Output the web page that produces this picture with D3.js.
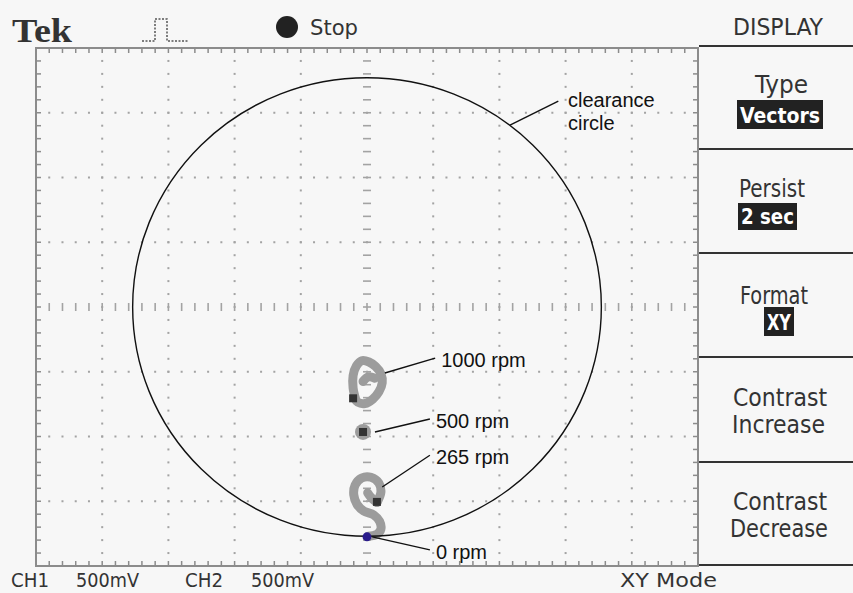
<!DOCTYPE html>
<html>
<head>
<meta charset="utf-8">
<script src="https://cdn.jsdelivr.net/npm/d3@7"></script>
<style>
  html, body { margin: 0; padding: 0; background: #f7f7f7; }
  svg { display: block; }
</style>
</head>
<body>
<div class="scope"></div>
<script>
// XY mode trace, graticule units (divisions); 500mV/div on both channels
var ch1Label = "CH1", ch1Scale = "500mV";
var ch2Label = "CH2", ch2Scale = "500mV";

var rpmLabels = ["1000 rpm", "500 rpm", "265 rpm", "0 rpm"];

var trace1000 = [[-0.17,-1.43],[-0.21,-1.25],[-0.21,-1.06],[-0.16,-0.91],[-0.08,-0.83],[0.03,-0.85],
                 [0.13,-0.92],[0.21,-1.03],[0.23,-1.17],[0.18,-1.31],[0.09,-1.42],[-0.03,-1.49],
                 [-0.14,-1.47],[-0.19,-1.41]];
var spur1000 = [[0.12,-1.10],[0.02,-1.08],[-0.06,-1.15]];
var trace500 = [[-0.06,-1.93]];
var trace265 = [[0.15,-3.02],[0.21,-2.86],[0.18,-2.72],[0.06,-2.63],[-0.08,-2.64],[-0.18,-2.75],
                [-0.20,-2.90],[-0.15,-3.05],[-0.05,-3.15],[0.10,-3.21],[0.19,-3.31],[0.21,-3.43],
                [0.15,-3.51],[0.02,-3.54]];
var spur265 = [[0.15,-3.02],[0.06,-2.94],[0.01,-2.87]];
var darkSpots = [[-0.21,-1.41],[-0.06,-1.93],[0.15,-3.01]];
var zeroRpm = [0, -3.55];
var clearanceRadius = 3.54;

// label anchors: point on trace -> end of leader
var anchors = [[0.27,-1.02],[0.12,-1.93],[0.23,-2.78],[0.08,-3.55]];
var leaderEnds = [[1.03,-0.79],[0.95,-1.73],[0.95,-2.29],[0.95,-3.75]];
var clearanceAnchor = [2.16, 2.81], clearanceEnd = [2.89, 3.18];

var menuTitles = ["Type", "Persist", "Format", "Contrast", "Contrast"];
var menuValues = ["Vectors", "2 sec", "XY", "Increase", "Decrease"];
var menuBoxed = [true, true, true, false, false];

var width = 853, height = 593;

var svg = d3.select(".scope").append("svg")
  .attr("width", width)
  .attr("height", height);

var x = d3.scaleLinear().domain([-5, 5]).range([36, 698]);
var y = d3.scaleLinear().domain([-4, 4]).range([566, 48]);

var grat = "#a3a3a3";
var narrow = "'DejaVu Sans Condensed', 'Liberation Sans Narrow', 'DejaVu Sans', sans-serif";

// graticule
var g = svg.append("g");

var fine = d3.range(-25, 26).map(function(i) { return i / 5; });
var fineY = d3.range(-20, 21).map(function(i) { return i / 5; });

[-4,-3,-2,-1,1,2,3,4].forEach(function(gx) {
  g.selectAll(null).data(fineY.slice(1, -1)).enter().append("rect")
    .attr("x", x(gx) - 1).attr("y", function(d) { return y(d) - 1; })
    .attr("width", 2).attr("height", 2).attr("fill", grat);
});
[-3,-2,-1,1,2,3].forEach(function(gy) {
  g.selectAll(null).data(fine.slice(1, -1)).enter().append("rect")
    .attr("x", function(d) { return x(d) - 1; }).attr("y", y(gy) - 1)
    .attr("width", 2).attr("height", 2).attr("fill", grat);
});

// centre cross
g.selectAll(null).data(fine.slice(1, -1)).enter().append("line")
  .attr("x1", function(d) { return x(d); }).attr("x2", function(d) { return x(d); })
  .attr("y1", y(0) - 4).attr("y2", y(0) + 4)
  .attr("stroke", grat).attr("stroke-width", 1.6);
g.selectAll(null).data(fineY.slice(1, -1)).enter().append("line")
  .attr("y1", function(d) { return y(d); }).attr("y2", function(d) { return y(d); })
  .attr("x1", x(0) - 4).attr("x2", x(0) + 4)
  .attr("stroke", grat).attr("stroke-width", 1.6);

// border with ticks
g.append("rect")
  .attr("x", x(-5)).attr("y", y(4))
  .attr("width", x(5) - x(-5)).attr("height", y(-4) - y(4))
  .attr("fill", "none").attr("stroke", "#8c8c8c").attr("stroke-width", 2);

[[y(4), 1], [y(-4), -1]].forEach(function(e) {
  g.selectAll(null).data(fine).enter().append("line")
    .attr("x1", function(d) { return x(d); }).attr("x2", function(d) { return x(d); })
    .attr("y1", e[0]).attr("y2", e[0] + e[1] * 5)
    .attr("stroke", "#8c8c8c").attr("stroke-width", 1.5);
});
[[x(-5), 1], [x(5), -1]].forEach(function(e) {
  g.selectAll(null).data(fineY).enter().append("line")
    .attr("y1", function(d) { return y(d); }).attr("y2", function(d) { return y(d); })
    .attr("x1", e[0]).attr("x2", e[0] + e[1] * 5)
    .attr("stroke", "#8c8c8c").attr("stroke-width", 1.5);
});

// traces
var line = d3.line()
  .x(function(d) { return x(d[0]); })
  .y(function(d) { return y(d[1]); })
  .curve(d3.curveCatmullRom);

var traceColor = "#9c9c9c";

[trace1000, spur1000, trace265, spur265].forEach(function(t) {
  svg.append("path")
    .attr("d", line(t))
    .attr("fill", "none")
    .attr("stroke", traceColor)
    .attr("stroke-width", 9)
    .attr("stroke-linejoin", "round")
    .attr("stroke-linecap", "round");
});

svg.selectAll(".blob").data(trace500).enter().append("circle")
  .attr("class", "blob")
  .attr("cx", function(d) { return x(d[0]); })
  .attr("cy", function(d) { return y(d[1]); })
  .attr("r", 8)
  .attr("fill", traceColor);

svg.selectAll(".dark").data(darkSpots).enter().append("rect")
  .attr("class", "dark")
  .attr("x", function(d) { return x(d[0]) - 4; })
  .attr("y", function(d) { return y(d[1]) - 4; })
  .attr("width", 8).attr("height", 8)
  .attr("fill", "#333");

// clearance circle
svg.append("ellipse")
  .attr("cx", x(0)).attr("cy", y(0))
  .attr("rx", x(clearanceRadius) - x(0))
  .attr("ry", y(0) - y(clearanceRadius))
  .attr("fill", "none")
  .attr("stroke", "#111")
  .attr("stroke-width", 1.4);

svg.append("circle")
  .attr("cx", x(zeroRpm[0])).attr("cy", y(zeroRpm[1]))
  .attr("r", 4.5)
  .attr("fill", "#2a1c8c");

// annotations
var ann = svg.append("g")
  .attr("font-family", "'Liberation Sans', Arial, sans-serif")
  .attr("font-size", "20px")
  .attr("fill", "#111");

rpmLabels.forEach(function(lab, i) {
  ann.append("line")
    .attr("x1", x(anchors[i][0])).attr("y1", y(anchors[i][1]))
    .attr("x2", x(leaderEnds[i][0])).attr("y2", y(leaderEnds[i][1]))
    .attr("stroke", "#111").attr("stroke-width", 1.4);
  ann.append("text")
    .attr("x", x(leaderEnds[i][0]) + 6)
    .attr("y", y(leaderEnds[i][1]) + 9)
    .text(lab);
});

ann.append("line")
  .attr("x1", x(clearanceAnchor[0])).attr("y1", y(clearanceAnchor[1]))
  .attr("x2", x(clearanceEnd[0])).attr("y2", y(clearanceEnd[1]))
  .attr("stroke", "#111").attr("stroke-width", 1.4);
ann.append("text").attr("x", 568).attr("y", 107).text("clearance");
ann.append("text").attr("x", 568).attr("y", 130).text("circle");

// header
svg.append("text")
  .attr("x", 12).attr("y", 42)
  .attr("font-family", "'Liberation Serif', 'DejaVu Serif', serif")
  .attr("font-weight", "bold")
  .attr("font-size", "34px")
  .attr("fill", "#333")
  .attr("textLength", 60)
  .attr("lengthAdjust", "spacingAndGlyphs")
  .text("Tek");

svg.append("path")
  .attr("d", "M142,41 H155 V19 H167 V41 H188")
  .attr("fill", "none")
  .attr("stroke", "#555")
  .attr("stroke-width", 1.5)
  .attr("stroke-dasharray", "2,1.5");

svg.append("circle").attr("cx", 287).attr("cy", 27).attr("r", 11).attr("fill", "#222");

function label(txt, x0, yb, w, size, color) {
  return svg.append("text")
    .attr("x", x0).attr("y", yb)
    .attr("font-family", narrow)
    .attr("font-size", size + "px")
    .attr("fill", color || "#333")
    .attr("textLength", w)
    .attr("lengthAdjust", "spacingAndGlyphs")
    .text(txt);
}

label("Stop", 310, 35, 48, 22);
label("DISPLAY", 733, 35, 90, 23);

// bottom status line
label(ch1Label, 11, 587, 38, 19);
label(ch1Scale, 76, 587, 63, 19);
label(ch2Label, 185, 587, 38, 19);
label(ch2Scale, 251, 587, 63, 19);
label("XY Mode", 620, 587, 97, 19);

// side menu
var panelX = 699;
var dividers = [46, 149, 253, 357, 462, 565];
svg.selectAll(".div").data(dividers).enter().append("line")
  .attr("class", "div")
  .attr("x1", panelX).attr("x2", width)
  .attr("y1", function(d) { return d; }).attr("y2", function(d) { return d; })
  .attr("stroke", "#333").attr("stroke-width", 2);

var titlePos = [[755, 93, 53], [739, 197, 66], [740, 304, 68], [733, 406, 94], [733, 510, 94]];
var valuePos = [[737, 100, 86, 29], [738, 203, 59, 27], [764, 307, 30, 29], [732, 433, 93], [730, 537, 98]];

menuTitles.forEach(function(t, i) {
  label(t, titlePos[i][0], titlePos[i][1], titlePos[i][2], 24);
  var v = valuePos[i];
  if (menuBoxed[i]) {
    svg.append("rect")
      .attr("x", v[0]).attr("y", v[1])
      .attr("width", v[2]).attr("height", v[3])
      .attr("fill", "#222");
    label(menuValues[i], v[0] + 3, v[1] + v[3] - 6, v[2] - 6, 22, "#fff")
      .attr("font-weight", "bold");
  } else {
    label(menuValues[i], v[0], v[1], v[2], 24);
  }
});
</script>
</body>
</html>
